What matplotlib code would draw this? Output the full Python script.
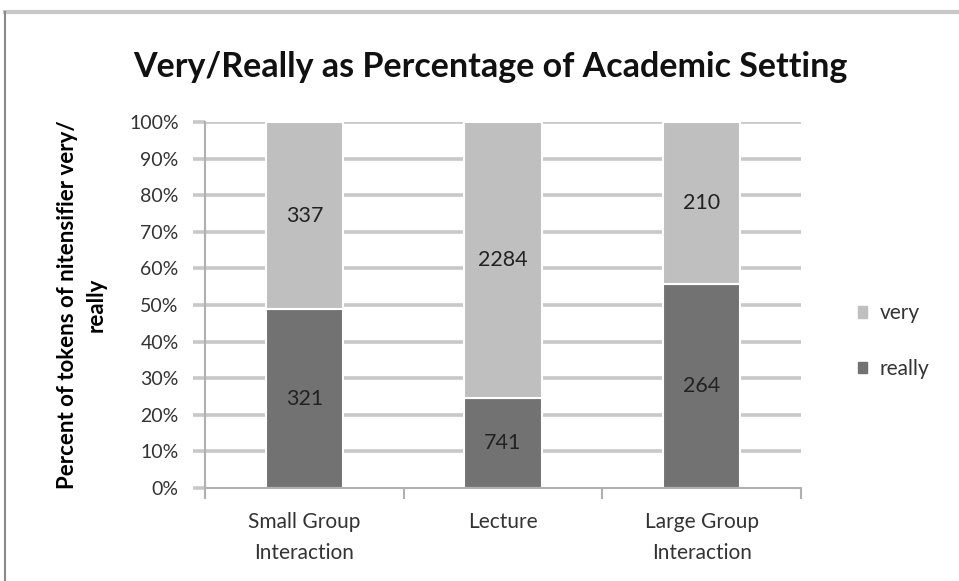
import numpy as np
import matplotlib.pyplot as plt
from matplotlib.lines import Line2D
from matplotlib.patches import Rectangle

plt.rcParams['font.family'] = ['Lato', 'DejaVu Sans']

settings = ['Small Group\nInteraction', 'Lecture', 'Large Group\nInteraction']
really = np.array([321, 741, 264])
very = np.array([337, 2284, 210])

total = really + very
really_pct = really / total
very_pct = very / total

fig = plt.figure(figsize=(9.59, 5.81), dpi=100)
ax = fig.add_axes([0.2138, 0.160, 0.6215, 0.630])

x = np.arange(len(settings))
w = 0.39
grid_col = '#c8c8c8'

for y in np.arange(0.1, 1.01, 0.1):
    ax.axhline(y, color=grid_col, lw=2.6, zorder=0)

ax.bar(x, really_pct, w, color='#727272', edgecolor='white', lw=1.5,
       label='really', zorder=2)
ax.bar(x, very_pct, w, bottom=really_pct, color='#bfbfbf', edgecolor='white',
       lw=1.5, label='very', zorder=2)

for i in range(len(x)):
    ax.text(x[i], really_pct[i] / 2, str(really[i]), ha='center', va='center',
            fontsize=15.5, color='#222222', zorder=3)
    ax.text(x[i], really_pct[i] + very_pct[i] / 2, str(very[i]), ha='center',
            va='center', fontsize=15.5, color='#222222', zorder=3)

ax.set_xlim(-0.5, 2.5)
ax.set_ylim(0, 1)
ax.set_yticks(np.arange(0, 1.01, 0.1))
ax.set_yticklabels(['{}%'.format(int(round(v * 100))) for v in np.arange(0, 1.01, 0.1)])
ax.set_xticks(x)
ax.set_xticklabels(settings, linespacing=1.7)
ax.set_xticks([-0.5, 0.5, 1.5, 2.5], minor=True)
ax.tick_params(axis='x', which='major', length=0, pad=17, labelsize=15,
               labelcolor='#333333')
ax.tick_params(axis='x', which='minor', length=8, width=1.5, color='#b0b0b0',
               direction='out')
ax.tick_params(axis='y', length=9, width=2.6, color=grid_col, pad=10,
               labelsize=14, labelcolor='#333333')

for s in ['top', 'right']:
    ax.spines[s].set_visible(False)
ax.spines['left'].set_color('#b0b0b0')
ax.spines['left'].set_linewidth(1.5)
ax.spines['bottom'].set_color('#b0b0b0')
ax.spines['bottom'].set_linewidth(1.5)

ax.set_ylabel('Percent of tokens of nitensifier very/\nreally', fontsize=16,
              fontweight='bold', labelpad=16, linespacing=1.45)

fig.text(0.511, 0.884, 'Very/Really as Percentage of Academic Setting',
         ha='center', va='center', fontsize=24.5, fontweight='bold', color='#111111')

handles = [Rectangle((0, 0), 1, 1, color='#bfbfbf'),
           Rectangle((0, 0), 1, 1, color='#727272')]
fig.legend(handles, ['very', 'really'], loc='center left',
           bbox_to_anchor=(0.875, 0.413), frameon=False, fontsize=15,
           handlelength=0.45, handleheight=0.45, handletextpad=0.6,
           labelspacing=1.7, labelcolor='#333333')

# chart frame edges
fig.add_artist(Line2D([0.005, 1.0], [0.979, 0.979], color='#c8c8c8', lw=3))
fig.add_artist(Line2D([0.005, 0.005], [0.0, 0.979], color='#8a8a8a', lw=1.5))

fig.savefig('out.png', dpi=100)
